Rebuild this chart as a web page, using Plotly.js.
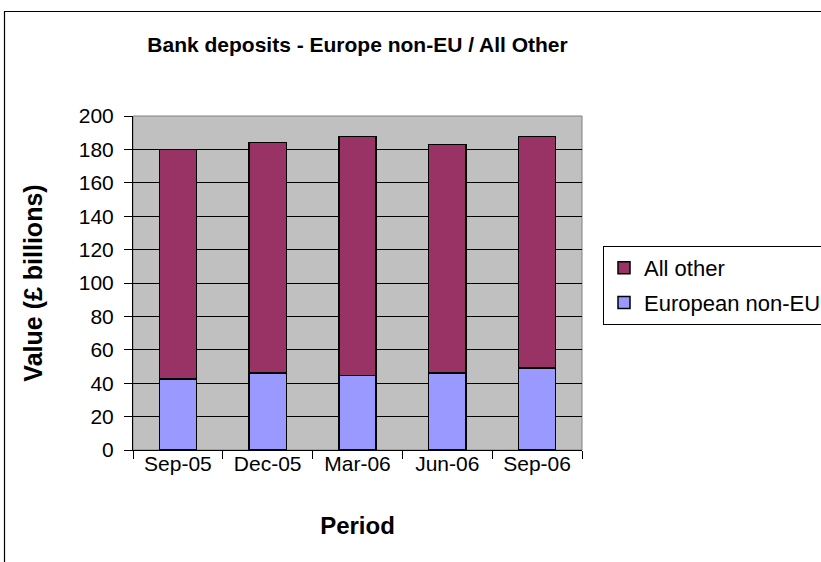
<!DOCTYPE html>
<html>
<head>
<meta charset="utf-8">
<script src="https://cdn.plot.ly/plotly-3.0.1.min.js"></script>
<style>
  html, body { margin: 0; padding: 0; background: #fff; }
  #chart { width: 821px; height: 562px; }
</style>
</head>
<body>
<div id="chart"></div>
<script>
const categories = ['Sep-05', 'Dec-05', 'Mar-06', 'Jun-06', 'Sep-06'];
const europeanNonEU = [42.5, 46, 44.7, 46, 49];
const allOther = [137.5, 138, 143, 137, 138.6];
const yTicks = [0, 20, 40, 60, 80, 100, 120, 140, 160, 180, 200];

const FONT = 'Liberation Sans, Arial, sans-serif';
const L = 133, R = 239, T = 116, B = 112;
const W = 821, H = 562;
const pw = W - L - R, ph = H - T - B;
const px = x => (x - L) / pw;
const py = y => (H - B - y) / ph;

const traces = [
  {
    type: 'bar', name: 'European non-EU', x: categories, y: europeanNonEU,
    legendgroup: 'b', legendrank: 2,
    marker: { color: '#9999FF', line: { color: '#000000', width: 1.5 } }
  },
  {
    type: 'bar', name: 'All other', x: categories, y: allOther,
    legendgroup: 'a', legendrank: 1,
    marker: { color: '#993366', line: { color: '#000000', width: 1.5 } }
  }
];

const layout = {
  width: W, height: H,
  margin: { l: L, r: R, t: T, b: B, pad: 0, autoexpand: false },
  paper_bgcolor: '#ffffff',
  plot_bgcolor: '#C0C0C0',
  barmode: 'stack',
  bargap: 0.585,
  font: { family: FONT, size: 21, color: '#000000' },
  showlegend: true,
  legend: {
    x: px(603), y: py(246), xanchor: 'left', yanchor: 'top',
    traceorder: 'grouped', tracegroupgap: 3,
    bordercolor: '#000000', borderwidth: 1, bgcolor: '#ffffff',
    font: { family: FONT, size: 22, color: '#000000' }
  },
  xaxis: {
    type: 'category',
    tickson: 'boundaries',
    ticks: 'outside', ticklen: 8, tickcolor: '#000000', tickwidth: 1,
    ticklabelstandoff: -5,
    showline: true, linecolor: '#000000', linewidth: 1,
    showgrid: false, zeroline: false,
    tickfont: { family: FONT, size: 21, color: '#000000' },
    title: { text: '<b>Period</b>', font: { family: FONT, size: 24, color: '#000000' }, standoff: 42 }
  },
  yaxis: {
    range: [0, 200],
    tickvals: yTicks,
    ticktext: yTicks.map(String),
    ticks: 'outside', ticklen: 8, tickcolor: '#000000', tickwidth: 1,
    ticklabelstandoff: 6,
    showline: true, linecolor: '#000000', linewidth: 1,
    showgrid: true, gridcolor: '#000000', gridwidth: 1,
    zeroline: false,
    tickfont: { family: FONT, size: 21, color: '#000000' },
    title: { text: '<b>Value (£ billions)</b>', font: { family: FONT, size: 25, color: '#000000' }, standoff: 29 }
  },
  title: {
    text: '<b>Bank deposits - Europe non-EU / All Other</b>',
    font: { family: FONT, size: 21, color: '#000000' },
    x: px(357.5), xref: 'paper', xanchor: 'center',
    y: 1 - 45 / H, yref: 'container', yanchor: 'middle'
  },
  shapes: [
    {
      type: 'rect', xref: 'paper', yref: 'paper',
      x0: 0, x1: 1, y0: 0, y1: 1,
      line: { color: '#808080', width: 1 }, layer: 'below'
    },
    {
      type: 'rect', xref: 'paper', yref: 'paper',
      x0: px(4.5), x1: px(830), y0: py(575), y1: py(11.5),
      line: { color: '#000000', width: 1.2 }, fillcolor: 'rgba(0,0,0,0)'
    }
  ]
};

Plotly.newPlot('chart', traces, layout, { displayModeBar: false, staticPlot: true });
</script>
</body>
</html>
